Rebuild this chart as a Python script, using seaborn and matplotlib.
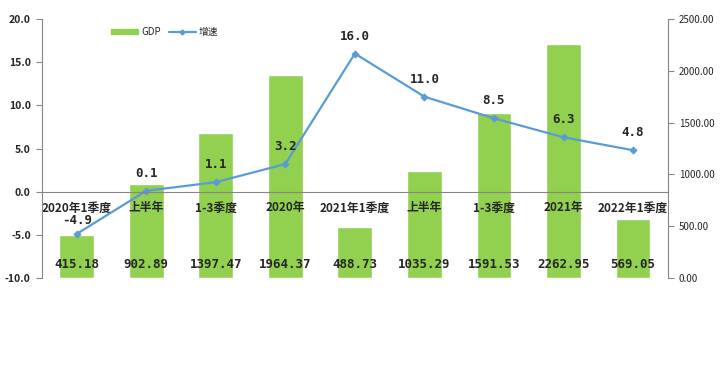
import numpy as np
import pandas as pd
import matplotlib
matplotlib.use('Agg')
import matplotlib.pyplot as plt
import matplotlib.ticker as mticker
from matplotlib.patches import Patch
from matplotlib.lines import Line2D
import seaborn as sns

sns.set_style('white')
plt.rcParams['font.family'] = ['Noto Sans CJK SC', 'DejaVu Sans']
plt.rcParams['axes.unicode_minus'] = False

categories = ['2020年1季度', '上半年', '1-3季度', '2020年', '2021年1季度',
              '上半年', '1-3季度', '2021年', '2022年1季度']
gdp = [415.18, 902.89, 1397.47, 1964.37, 488.73, 1035.29, 1591.53, 2262.95, 569.05]
growth = [-4.9, 0.1, 1.1, 3.2, 16.0, 11.0, 8.5, 6.3, 4.8]

bar_color = '#92D050'
line_color = '#5B9BD5'
axis_color = '#868686'

df = pd.DataFrame({'idx': np.arange(len(categories)), 'label': categories,
                   'gdp': gdp, 'growth': growth})

fig = plt.figure(figsize=(7.22, 3.71), dpi=100)
ax = fig.add_axes([0.058, 0.2507, 0.867, 0.698])

# bars on the right-hand axis (drawn first, stays behind the line)
sns.barplot(data=df, x='idx', y='gdp', ax=ax, color=bar_color,
            saturation=1, width=0.5)

# growth line on the left-hand axis
ax2 = ax.twinx()
sns.lineplot(data=df, x='idx', y='growth', ax=ax2, color=line_color, lw=1.6,
             marker='D', markersize=3.5, markeredgecolor=line_color)

# twinx moves ax ticks to the left, so swap them after creating it
ax.yaxis.tick_right()
ax.yaxis.set_label_position('right')
ax2.yaxis.tick_left()
ax2.yaxis.set_label_position('left')

ax.set_ylim(0, 2500)
ax.set_xlim(-0.5, len(categories) - 0.5)
ax.set_ylabel('')
ax.set_xlabel('')
ax.yaxis.set_major_locator(mticker.MultipleLocator(500))
ax.yaxis.set_major_formatter(mticker.FormatStrFormatter('%.2f'))
ax.tick_params(axis='y', which='major', direction='out', length=4, color=axis_color,
               labelsize=7, pad=4)
ax.tick_params(axis='x', bottom=False, labelbottom=False, which='both')
for s in ['top', 'left', 'bottom']:
    ax.spines[s].set_visible(False)
ax.spines['right'].set_color(axis_color)

ax2.set_ylim(-10, 20)
ax2.set_ylabel('')
ax2.set_xlabel('')
ax2.yaxis.set_major_locator(mticker.MultipleLocator(5))
ax2.yaxis.set_major_formatter(mticker.FormatStrFormatter('%.1f'))
ax2.tick_params(axis='y', direction='out', length=4, color=axis_color,
                labelsize=7.5, pad=4)
for lbl in ax2.get_yticklabels():
    lbl.set_fontweight('bold')
for s in ['top', 'right']:
    ax2.spines[s].set_visible(False)
ax2.spines['left'].set_color(axis_color)
ax2.spines['bottom'].set_color(axis_color)
ax2.spines['bottom'].set_position(('data', 0))

# category axis sits on the zero line of the growth axis
ax2.xaxis.set_visible(True)
ax2.set_xticks(np.arange(-0.5, len(categories), 1))
ax2.set_xticklabels([])
ax2.set_xticks(df['idx'], minor=True)
ax2.set_xticklabels(categories, minor=True, fontsize=8.5, fontweight='bold')
ax2.tick_params(axis='x', which='major', direction='out', length=4, color=axis_color)
ax2.tick_params(axis='x', which='minor', length=0, pad=7)
ax2.set_xlim(-0.5, len(categories) - 0.5)

# value labels
for i, v in enumerate(gdp):
    ax.annotate(f'{v:.2f}', xy=(i, 0), xytext=(0, 10), textcoords='offset points',
                ha='center', va='center', fontsize=9, fontweight='bold',
                family='DejaVu Sans Mono')
for i, v in enumerate(growth):
    dy = 9.5 if v < 0 else 12.5
    ax2.annotate(f'{v:.1f}', xy=(i, v), xytext=(0, dy), textcoords='offset points',
                 ha='center', va='center', fontsize=9, fontweight='bold',
                 family='DejaVu Sans Mono')

handles = [Patch(color=bar_color),
           Line2D([0], [0], color=line_color, lw=1.6, marker='D', markersize=2.5)]
ax2.legend(handles, ['GDP', '增速'], loc='center', bbox_to_anchor=(0.196, 0.95),
           ncol=2, frameon=False, fontsize=7, handlelength=2.8, handleheight=0.5,
           columnspacing=0.8, handletextpad=0.3)

fig.savefig('out.png', dpi=100)
